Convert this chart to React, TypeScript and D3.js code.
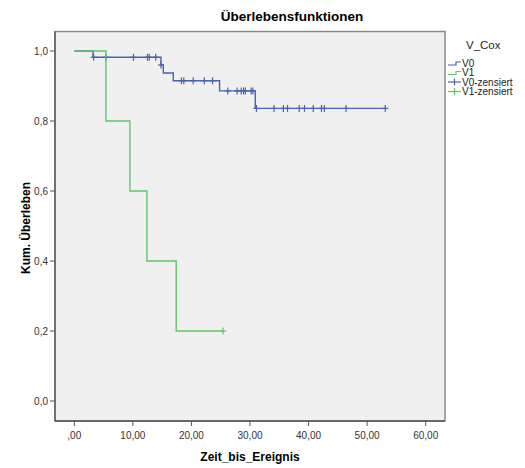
import React from "react";
import * as d3 from "d3";

const v0Times = [0, 3.2, 14.8, 15.2, 16.9, 24.8, 30.9, 53.1];
const v0Surv = [1, 0.982, 0.96, 0.937, 0.915, 0.886, 0.836, 0.836];
const v0Censored = [3.3, 5.4, 10.1, 12.5, 12.8, 13.9, 14.8, 18.3, 18.7, 20.3, 22.2, 23.6, 26.2, 27.8, 28.5, 28.9, 29.2, 30.2, 30.5, 31.1, 34.1, 35.7, 36.4, 38.4, 39.3, 40.8, 42.2, 42.7, 46.4, 53.1];

const v1Times = [0, 5.4, 9.5, 12.4, 17.4, 25.4];
const v1Surv = [1, 0.8, 0.6, 0.4, 0.2, 0.2];
const v1Censored = [25.4];

const xTicks = [0, 10, 20, 30, 40, 50, 60];
const yTicks = [0, 0.2, 0.4, 0.6, 0.8, 1.0];

const legendLabels = ["V0", "V1", "V0-zensiert", "V1-zensiert"];

const BLUE = "#4a62b0";
const GREEN = "#62c46c";
const FONT = "Liberation Sans, Arial, sans-serif";

function survAt(times: number[], surv: number[], t: number) {
  let s = surv[0];
  for (let i = 0; i < times.length; i++) if (times[i] <= t) s = surv[i];
  return s;
}

export default function App() {
  const x = d3.scaleLinear().domain([0, 60]).range([74.3, 425.7]);
  const y = d3.scaleLinear().domain([0, 1]).range([401, 51]);
  const line = d3
    .line<[number, number]>()
    .x((d) => x(d[0]))
    .y((d) => y(d[1]))
    .curve(d3.curveStepAfter);
  const v0Path = line(v0Times.map((t, i) => [t, v0Surv[i]]) as [number, number][]) || "";
  const v1Path = line(v1Times.map((t, i) => [t, v1Surv[i]]) as [number, number][]) || "";
  const fmtX = (v: number) => (v === 0 ? ",00" : d3.format(".2f")(v).replace(".", ","));
  const fmtY = (v: number) => d3.format(".1f")(v).replace(".", ",");

  const plusMark = (cx: number, cy: number, color: string, key: string) => (
    <g key={key} stroke={color} strokeWidth={1.2}>
      <line x1={cx} x2={cx} y1={cy - 3.5} y2={cy + 3.5} />
      <line x1={cx - 3} x2={cx + 3} y1={cy} y2={cy} />
    </g>
  );

  return (
    <svg width={525} height={468} style={{ position: "absolute", left: 0, top: 0 }} fontFamily={FONT}>
      <rect x={0} y={0} width={525} height={468} fill="#ffffff" />
      <text x={292} y={21} textAnchor="middle" fontSize={13.5} fontWeight="bold" fill="#000">
        Überlebensfunktionen
      </text>
      <rect x={55} y={31.5} width={390} height={389.5} fill="#f0f0f0" stroke="#8a8a8a" strokeWidth={1.5} />
      <line x1={55} x2={55} y1={31.5} y2={421} stroke="#555" strokeWidth={1.3} />
      <line x1={55} x2={445} y1={421} y2={421} stroke="#555" strokeWidth={1.3} />
      {yTicks.map((v) => (
        <g key={"y" + v}>
          <line x1={50} x2={55} y1={y(v)} y2={y(v)} stroke="#555" />
          <text x={48} y={y(v) + 3.5} textAnchor="end" fontSize={10} fill="#333">
            {fmtY(v)}
          </text>
        </g>
      ))}
      {xTicks.map((v) => (
        <g key={"x" + v}>
          <line x1={x(v)} x2={x(v)} y1={421} y2={426} stroke="#555" />
          <text x={x(v)} y={439} textAnchor="middle" fontSize={10} fill="#333">
            {fmtX(v)}
          </text>
        </g>
      ))}
      <text x={250} y={461} textAnchor="middle" fontSize={12} fontWeight="bold" fill="#000">
        Zeit_bis_Ereignis
      </text>
      <text transform="translate(30,228) rotate(-90)" textAnchor="middle" fontSize={12} fontWeight="bold" fill="#000">
        Kum. Überleben
      </text>
      <path d={v0Path} fill="none" stroke={BLUE} strokeWidth={1.4} />
      {v0Censored.map((t, i) => plusMark(x(t), y(survAt(v0Times, v0Surv, t)), BLUE, "c0" + i))}
      <path d={v1Path} fill="none" stroke={GREEN} strokeWidth={1.4} />
      {v1Censored.map((t, i) => plusMark(x(t), y(survAt(v1Times, v1Surv, t)), GREEN, "c1" + i))}
      <text x={466} y={49} fontSize={11.5} fill="#222">V_Cox</text>
      {legendLabels.map((lab, i) => {
        const ly = 63 + i * 9.5;
        const color = i % 2 === 0 ? BLUE : GREEN;
        return (
          <g key={lab}>
            {i < 2 ? (
              <path d={`M448,${ly + 2}H456V${ly - 1}H461`} fill="none" stroke={color} strokeWidth={1.2} />
            ) : (
              <g stroke={color} strokeWidth={1.2}>
                <line x1={448} x2={461} y1={ly} y2={ly} />
                <line x1={454.5} x2={454.5} y1={ly - 3.5} y2={ly + 3.5} />
              </g>
            )}
            <text x={462} y={ly + 3.5} fontSize={10} fill="#222">
              {lab}
            </text>
          </g>
        );
      })}
    </svg>
  );
}
